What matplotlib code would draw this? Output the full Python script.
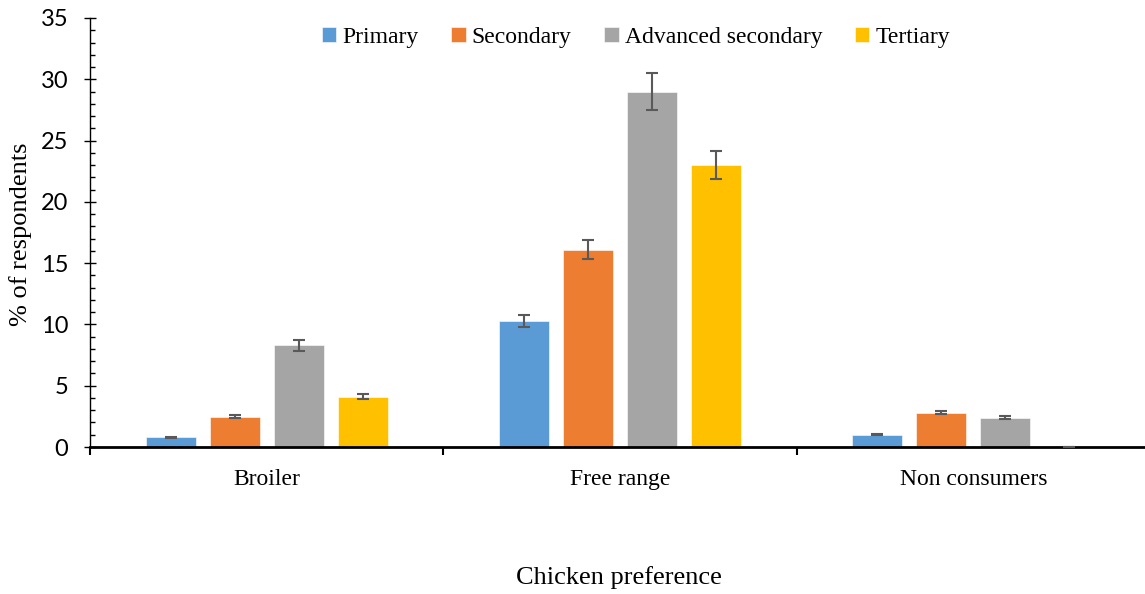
import matplotlib
matplotlib.use("Agg")
import matplotlib.pyplot as plt
from matplotlib.ticker import MultipleLocator
import numpy as np

categories = ["Broiler", "Free range", "Non consumers"]
series = ["Primary", "Secondary", "Advanced secondary", "Tertiary"]
values = {
    "Primary": [0.8, 10.3, 1.0],
    "Secondary": [2.45, 16.1, 2.8],
    "Advanced secondary": [8.3, 29.0, 2.4],
    "Tertiary": [4.1, 23.0, 0.0],
}
errors = {
    "Primary": [0.05, 0.5, 0.05],
    "Secondary": [0.12, 0.8, 0.12],
    "Advanced secondary": [0.45, 1.5, 0.1],
    "Tertiary": [0.2, 1.15, 0.02],
}
colors = ["#5B9BD5", "#ED7D31", "#A5A5A5", "#FFC000"]

serif = "Liberation Serif"
sans = "Lato"

W, H = 1145, 594
fig = plt.figure(figsize=(W / 100, H / 100), dpi=100)
ax = fig.add_axes([90 / W, 1 - 447 / H, (1150 - 90) / W, (447 - 18) / H])

x = np.arange(len(categories))
step = 64 / 353.5
width = 50 / 353.5
for i, s in enumerate(series):
    pos = x + (i - 1.5) * step
    ax.bar(pos, values[s], width, color=colors[i], label=s, zorder=2,
           edgecolor="white", linewidth=0.4)
    ax.errorbar(pos, values[s], yerr=errors[s], fmt="none", ecolor="#595959",
                elinewidth=1.5, capsize=4.5, capthick=1.5, zorder=3)

ax.set_xlim(-0.5, 2.5)
ax.set_ylim(0, 35)
ax.yaxis.set_major_locator(MultipleLocator(5))
ax.yaxis.set_minor_locator(MultipleLocator(1))
ax.set_xticks([-0.5, 0.5, 1.5, 2.5])
ax.set_xticklabels([])
ax.set_xticks(x, minor=True)
ax.set_xticklabels(categories, minor=True, fontfamily=serif, fontsize=17)
ax.tick_params(axis="x", which="major", direction="out", length=6, width=1.5)
ax.tick_params(axis="x", which="minor", length=0, pad=16)
ax.tick_params(axis="y", which="major", direction="inout", length=9, width=1,
               pad=11)
ax.tick_params(axis="y", which="minor", direction="in", length=3.5, width=1)
for lab in ax.get_yticklabels():
    lab.set_fontfamily(sans)
    lab.set_fontsize(17)

for sp in ["top", "right"]:
    ax.spines[sp].set_visible(False)
ax.spines["bottom"].set_linewidth(2)
ax.spines["left"].set_linewidth(1)

fig.text(21 / W, 1 - 234 / H, "% of respondents", fontfamily=serif,
         fontsize=19, rotation=90, ha="center", va="center")
fig.text(619 / W, 1 - 578 / H, "Chicken preference", fontfamily=serif,
         fontsize=19, ha="center", va="center")

leg = fig.legend(loc="center", bbox_to_anchor=(636 / W, 1 - 37 / H), ncol=4,
                 frameon=False, prop={"family": serif, "size": 17},
                 handlelength=0.6, handleheight=0.6, handletextpad=0.25,
                 columnspacing=1.4)

fig.savefig("out.png", dpi=100)
